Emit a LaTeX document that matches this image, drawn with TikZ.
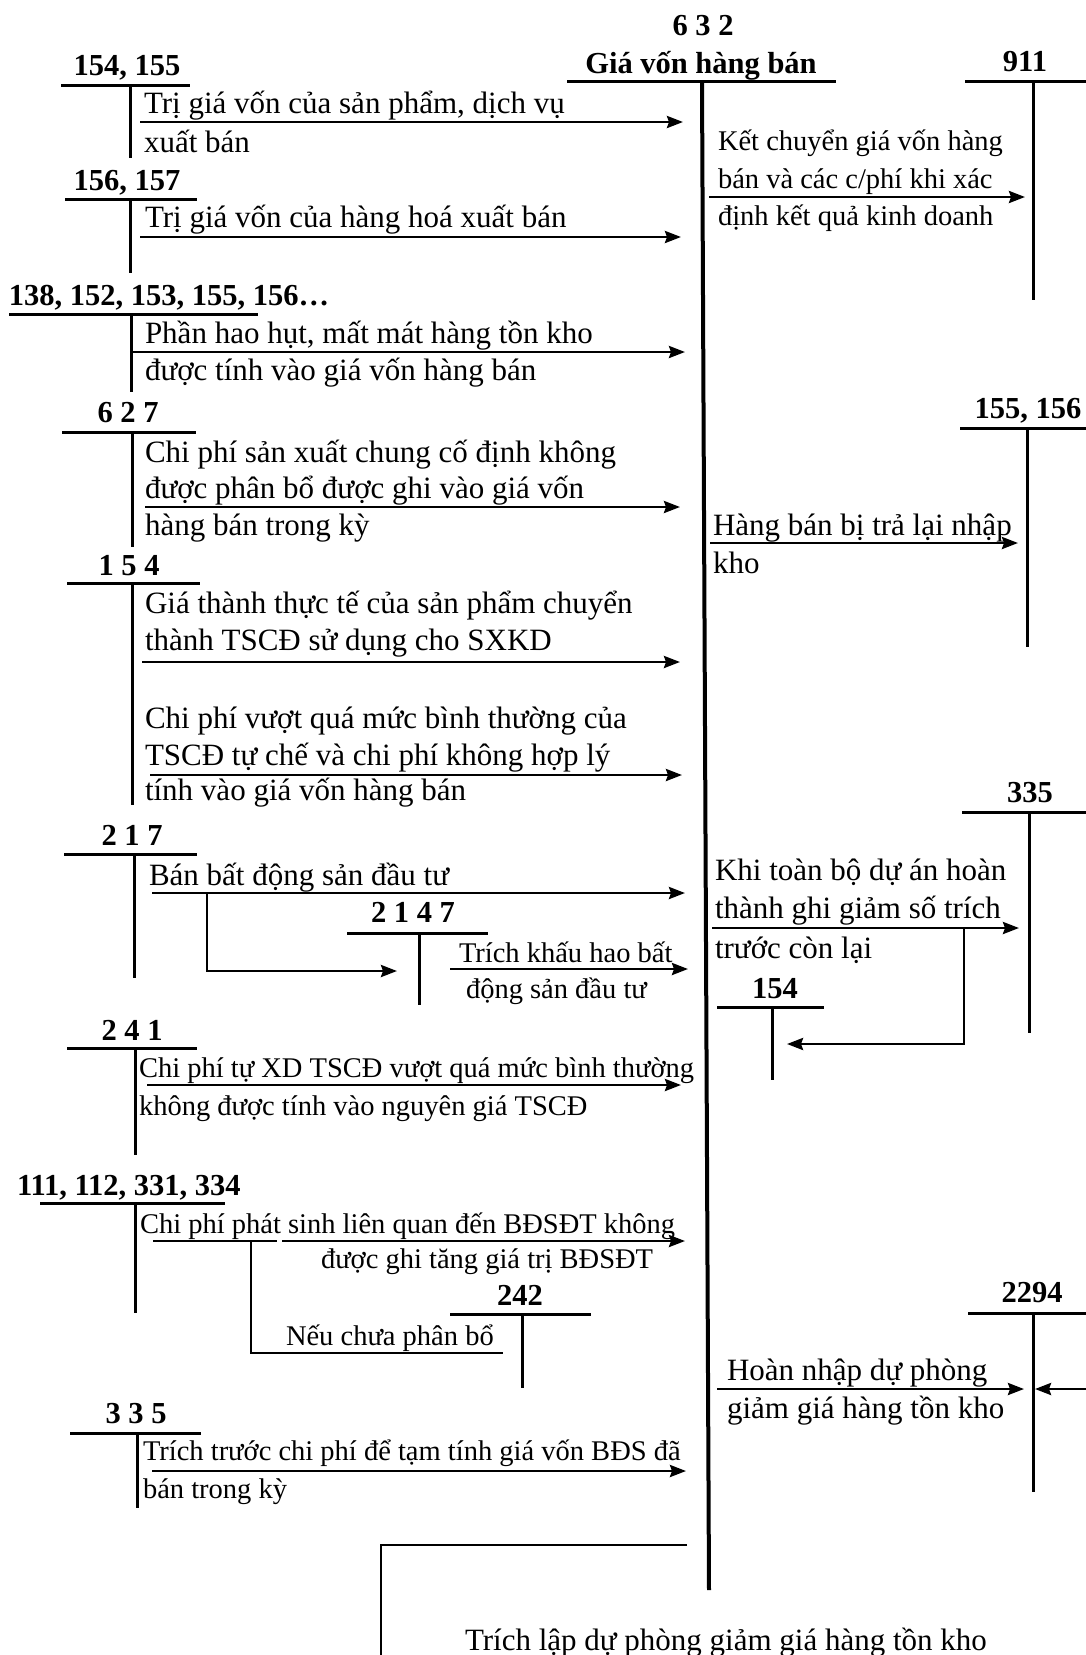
\documentclass[tikz,border=0pt]{standalone}
\usepackage{fontspec}
\setmainfont{Liberation Serif}
\usetikzlibrary{arrows.meta}
\begin{document}
\begin{tikzpicture}[x=1pt,y=-1pt,
  big/.style={font=\fontsize{31}{37}\selectfont, anchor=base west, inner sep=0pt, outer sep=0pt},
  sm/.style={font=\fontsize{28.5}{34}\selectfont, anchor=base west, inner sep=0pt, outer sep=0pt},
  acct/.style={font=\bfseries\fontsize{30.5}{36}\selectfont, anchor=base, inner sep=0pt, outer sep=0pt},
  acctw/.style={font=\bfseries\fontsize{30.5}{36}\selectfont, anchor=base west, inner sep=0pt, outer sep=0pt},
  tl/.style={line width=3pt},
  arr/.style={line width=2.8pt, -{Stealth[length=16pt,width=12pt,inset=2pt]}},
  plain/.style={line width=2.8pt}
]
\useasboundingbox (0,0) rectangle (1086,1655);
\clip (0,0) rectangle (1086,1655);
\fill[white] (0,0) rectangle (1086,1655);

% ---------- account 632 ----------
\node[acct] (n632) at (703,35) {6 3 2};
\node[acct] (t632) at (701,73) {Giá vốn hàng bán};
\draw[tl] (567,81) -- (836,81);
\coordinate (v632a) at (702,81);
\coordinate (v632b) at (709,1590);
\draw[line width=4pt] (v632a) -- (v632b);

% ---------- 154, 155 ----------
\node[acct] (n154a) at (127,75) {154, 155};
\draw[tl] (61,85) -- (190,85) (130,85) -- (130,158);
\node[big] (t1a) at (144,113) {Trị giá vốn của sản phẩm, dịch vụ};
\node[big] (t1b) at (144,152) {xuất bán};
\coordinate (s1) at (140,122); \coordinate (e1) at (683,122);
\draw[arr] (s1) -- (e1);

% ---------- 156, 157 ----------
\node[acct] (n156) at (127,190) {156, 157};
\draw[tl] (65,199) -- (197,199) (130,199) -- (130,273);
\node[big] (t2a) at (145,227) {Trị giá vốn của hàng hoá xuất bán};
\coordinate (s2) at (140,237); \coordinate (e2) at (681,237);
\draw[arr] (s2) -- (e2);

% ---------- 138, 152, ... ----------
\node[acctw] (n138) at (9,305) {138, 152, 153, 155, 156…};
\draw[tl] (9,314) -- (258,314) (131,314) -- (131,392);
\node[big] (t3a) at (145,343) {Phần hao hụt, mất mát hàng tồn kho};
\node[big] (t3b) at (145,380) {được tính vào giá vốn hàng bán};
\coordinate (s3) at (131,352); \coordinate (e3) at (685,352);
\draw[arr] (s3) -- (e3);

% ---------- 627 ----------
\node[acct] (n627) at (128,422) {6 2 7};
\draw[tl] (62,432) -- (196,432) (132,432) -- (132,547);
\node[big] (t4a) at (145,462) {Chi phí sản xuất chung cố định không};
\node[big] (t4b) at (145,498) {được phân bổ được ghi vào giá vốn};
\node[big] (t4c) at (145,535) {hàng bán trong kỳ};
\coordinate (s4) at (145,507); \coordinate (e4) at (680,507);
\draw[arr] (s4) -- (e4);

% ---------- 154 (left) ----------
\node[acct] (n154b) at (129,575) {1 5 4};
\draw[tl] (67,583) -- (200,583) (132,583) -- (132,805);
\node[big] (t5a) at (145,613) {Giá thành thực tế của sản phẩm chuyển};
\node[big] (t5b) at (145,650) {thành TSCĐ sử dụng cho SXKD};
\coordinate (s5) at (142,662); \coordinate (e5) at (680,662);
\draw[arr] (s5) -- (e5);
\node[big] (t6a) at (145,728) {Chi phí vượt quá mức bình thường của};
\node[big] (t6b) at (145,765) {TSCĐ tự chế và chi phí không hợp lý};
\node[big] (t6c) at (145,800) {tính vào giá vốn hàng bán};
\coordinate (s6) at (150,775); \coordinate (e6) at (682,775);
\draw[arr] (s6) -- (e6);

% ---------- 217 ----------
\node[acct] (n217) at (132,845) {2 1 7};
\draw[tl] (64,854) -- (197,854) (134,854) -- (134,978);
\node[big] (t7a) at (149,885) {Bán bất động sản đầu tư};
\coordinate (s7) at (152,893); \coordinate (e7) at (685,893);
\draw[arr] (s7) -- (e7);
\coordinate (b7) at (207,893); \coordinate (c7) at (207,971); \coordinate (d7) at (397,971);
\draw[arr] (b7) -- (c7) -- (d7);

% ---------- 2147 ----------
\node[acct] (n2147) at (413,922) {2 1 4 7};
\draw[tl] (347,933) -- (488,933) (419,933) -- (419,1005);
\node[sm] (t8a) at (459,962) {Trích khấu hao bất};
\node[sm] (t8b) at (466,998) {động sản đầu tư};
\coordinate (s8) at (450,969); \coordinate (e8) at (688,969);
\draw[arr] (s8) -- (e8);

% ---------- 241 ----------
\node[acct] (n241) at (132,1040) {2 4 1};
\draw[tl] (67,1048) -- (197,1048) (135,1048) -- (135,1155);
\node[sm] (t9a) at (139,1077) {Chi phí tự XD TSCĐ vượt quá mức bình thường};
\node[sm] (t9b) at (139,1115) {không được tính vào nguyên giá TSCĐ};
\coordinate (s9) at (147,1085); \coordinate (e9) at (681,1085);
\draw[arr] (s9) -- (e9);

% ---------- 111, 112, 331, 334 ----------
\node[acctw] (n111) at (17,1195) {111, 112, 331, 334};
\draw[tl] (40,1203) -- (225,1203) (135,1203) -- (135,1313);
\node[sm] (t10a) at (140,1233) {Chi phí phát sinh liên quan đến BĐSĐT không};
\node[sm] (t10b) at (321,1268) {được ghi tăng giá trị BĐSĐT};
\coordinate (s10) at (153,1241); \coordinate (g10) at (277,1241);
\coordinate (h10) at (282,1241); \coordinate (e10) at (685,1241);
\draw[plain] (s10) -- (g10);
\draw[arr] (h10) -- (e10);
\coordinate (b10) at (251,1241); \coordinate (c10) at (251,1353); \coordinate (d10) at (503,1353);
\draw[plain] (b10) -- (c10) -- (d10);

% ---------- 242 ----------
\node[acct] (n242) at (520,1305) {242};
\draw[tl] (450,1314) -- (591,1314) (522,1314) -- (522,1388);
\node[sm] (t11) at (286,1345) {Nếu chưa phân bổ};

% ---------- 335 (left) ----------
\node[acct] (n335a) at (136,1423) {3 3 5};
\draw[tl] (70,1433) -- (201,1433) (137,1433) -- (137,1508);
\node[sm] (t12a) at (143,1460) {Trích trước chi phí để tạm tính giá vốn BĐS đã};
\node[sm] (t12b) at (143,1498) {bán trong kỳ};
\coordinate (s12) at (152,1471); \coordinate (e12) at (686,1471);
\draw[arr] (s12) -- (e12);

% ---------- bottom ----------
\coordinate (p1) at (687,1545); \coordinate (p2) at (381,1545); \coordinate (p3) at (381,1665);
\draw[plain] (p1) -- (p2) -- (p3);
\node[big] (t13) at (465,1650) {Trích lập dự phòng giảm giá hàng tồn kho};

% ---------- 911 ----------
\node[acct] (n911) at (1025,71) {911};
\draw[tl] (965,81) -- (1090,81) (1033,81) -- (1033,300);
\node[sm] (r1a) at (718,150) {Kết chuyển giá vốn hàng};
\node[sm] (r1b) at (718,188) {bán và các c/phí khi xác};
\node[sm] (r1c) at (718,225) {định kết quả kinh doanh};
\coordinate (rs1) at (709,197); \coordinate (re1) at (1025,197);
\draw[arr] (rs1) -- (re1);

% ---------- 155, 156 ----------
\node[acct] (n155) at (1028,418) {155, 156};
\draw[tl] (960,428) -- (1090,428) (1027,428) -- (1027,647);
\node[big] (r2a) at (713,535) {Hàng bán bị trả lại nhập};
\node[big] (r2b) at (713,573) {kho};
\coordinate (rs2) at (710,543); \coordinate (re2) at (1018,543);
\draw[arr] (rs2) -- (re2);

% ---------- 335 (right) ----------
\node[acct] (n335b) at (1030,802) {335};
\draw[tl] (962,812) -- (1090,812) (1029,812) -- (1029,1033);
\node[big] (r3a) at (715,880) {Khi toàn bộ dự án hoàn};
\node[big] (r3b) at (715,918) {thành ghi giảm số trích};
\node[big] (r3c) at (715,958) {trước còn lại};
\coordinate (rs3) at (712,928); \coordinate (re3) at (1019,928);
\draw[arr] (rs3) -- (re3);
\coordinate (rb3) at (964,928); \coordinate (rc3) at (964,1044); \coordinate (rd3) at (787,1044);
\draw[arr] (rb3) -- (rc3) -- (rd3);

% ---------- 154 (right) ----------
\node[acct] (n154c) at (775,998) {154};
\draw[tl] (717,1007) -- (824,1007) (772,1007) -- (772,1080);

% ---------- 2294 ----------
\node[acct] (n2294) at (1032,1302) {2294};
\draw[tl] (968,1313) -- (1090,1313) (1033,1313) -- (1033,1492);
\node[big] (r4a) at (727,1380) {Hoàn nhập dự phòng};
\node[big] (r4b) at (727,1418) {giảm giá hàng tồn kho};
\coordinate (rs4) at (717,1389); \coordinate (re4) at (1024,1389);
\draw[arr] (rs4) -- (re4);
\coordinate (rs5) at (1092,1389); \coordinate (re5) at (1035,1389);
\draw[arr] (rs5) -- (re5);
\end{tikzpicture}
\end{document}
